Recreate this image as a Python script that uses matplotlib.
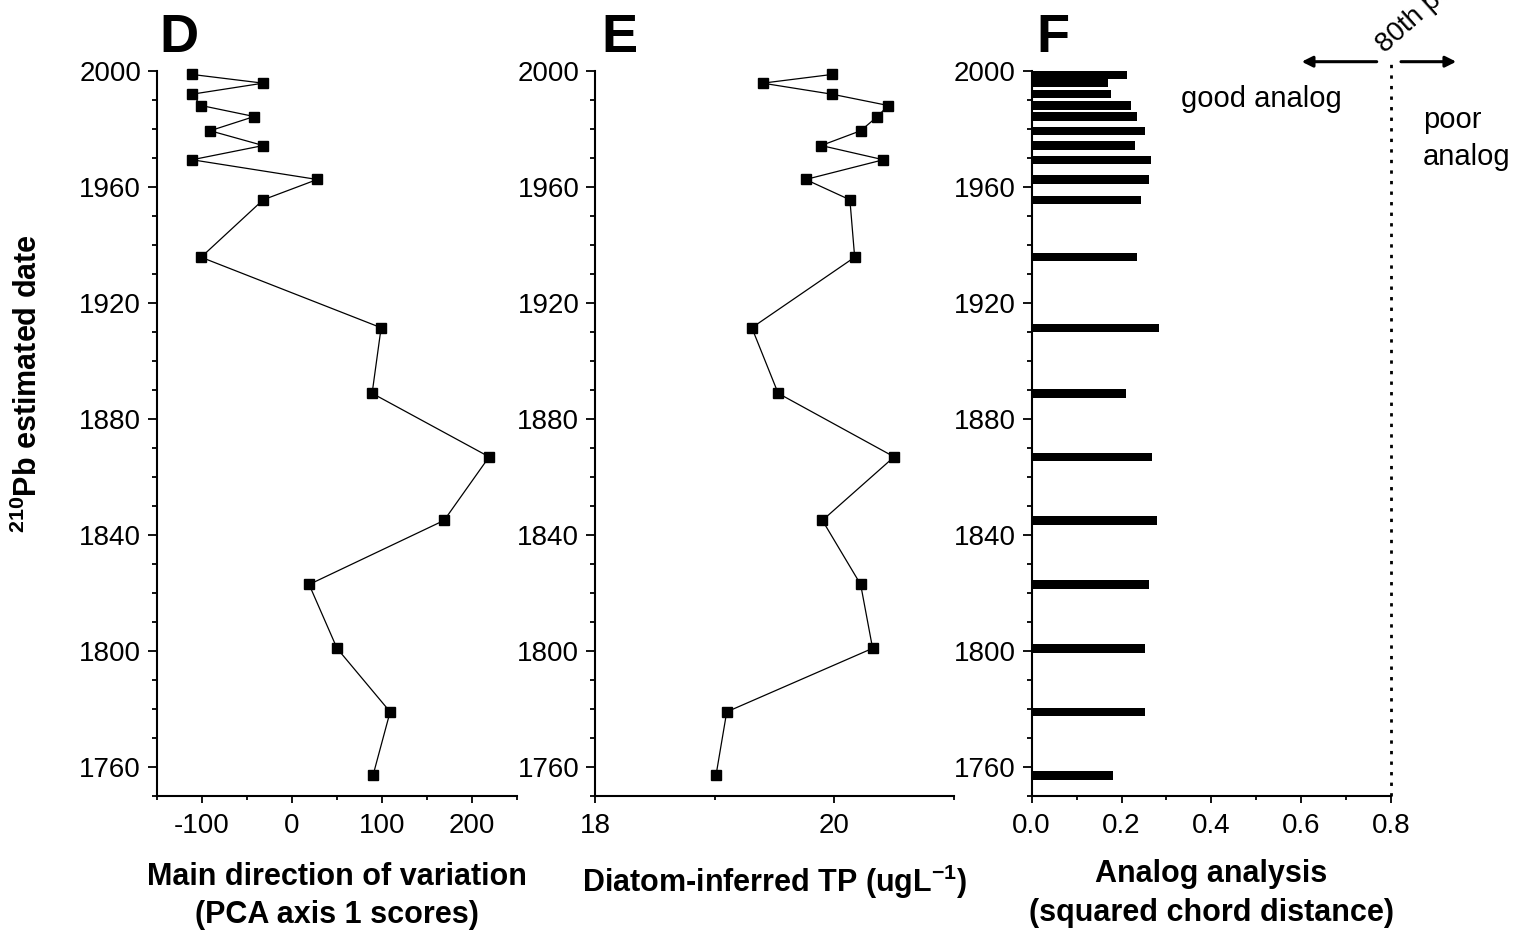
import numpy as np
import matplotlib as mpl
import matplotlib.pyplot as plt
from matplotlib.ticker import MultipleLocator

mpl.rcParams['font.family'] = 'Liberation Sans'
mpl.rcParams['mathtext.fontset'] = 'custom'
mpl.rcParams['mathtext.rm'] = 'Liberation Sans'
mpl.rcParams['mathtext.bf'] = 'Liberation Sans:bold'
mpl.rcParams['axes.unicode_minus'] = False

# sample dates (210Pb estimated), shared by all three panels
years = [1998.7, 1995.7, 1991.9, 1988.0, 1984.2, 1979.3, 1974.2, 1969.3,
         1962.5, 1955.5, 1935.7, 1911.4, 1888.8, 1866.9, 1845.0, 1822.9,
         1800.9, 1779.0, 1757.1]

# D: PCA axis 1 scores
pca_scores = [-111, -32, -111, -101, -42, -91, -32, -111, 28, -32, -101,
              99, 89, 219, 169, 19, 50, 109, 90]

# E: diatom-inferred TP (ug/L)
di_tp = [19.98, 19.40, 19.98, 20.45, 20.36, 20.22, 19.89, 20.41, 19.76,
         20.13, 20.17, 19.31, 19.53, 20.50, 19.90, 20.22, 20.32, 19.10, 19.01]

# F: squared chord distance to closest modern analog
scd = [0.213, 0.171, 0.176, 0.222, 0.234, 0.252, 0.231, 0.266, 0.261,
       0.243, 0.234, 0.284, 0.210, 0.267, 0.278, 0.261, 0.252, 0.253, 0.180]

threshold = 0.8  # 80th percentile cut-off


def style_axis(ax, xlim, xmajor, xminor):
    ax.set_xlim(*xlim)
    ax.set_ylim(1750, 2000)
    ax.xaxis.set_major_locator(MultipleLocator(xmajor))
    ax.xaxis.set_minor_locator(MultipleLocator(xminor))
    ax.yaxis.set_major_locator(MultipleLocator(40))
    ax.yaxis.set_minor_locator(MultipleLocator(10))
    for side in ['top', 'right']:
        ax.spines[side].set_visible(False)
    for side in ['left', 'bottom']:
        ax.spines[side].set_linewidth(1.5)
    ax.tick_params(axis='both', which='both', direction='out', width=1.3,
                   labelsize=20)
    ax.tick_params(axis='y', which='major', length=6.5, pad=5)
    ax.tick_params(axis='y', which='minor', length=3.5)
    ax.tick_params(axis='x', which='major', length=5, pad=7)
    ax.tick_params(axis='x', which='minor', length=3)


fig = plt.figure(figsize=(15.27, 9.4), dpi=100)
bottom, height = 0.1532, 0.7716
ax_d = fig.add_axes([0.1028, bottom, 0.2358, height])
ax_e = fig.add_axes([0.3898, bottom, 0.2349, height])
ax_f = fig.add_axes([0.6756, bottom, 0.2354, height])

# Panel D
ax_d.plot(pca_scores, years, color='black', lw=0.9, marker='s', ms=6.8,
          clip_on=False)
style_axis(ax_d, (-150, 250), 100, 50)
ax_d.set_xlabel('Main direction of variation\n(PCA axis 1 scores)',
                fontsize=22, fontweight='bold', labelpad=17, linespacing=1.35)

# Panel E
ax_e.plot(di_tp, years, color='black', lw=0.9, marker='s', ms=6.8,
          clip_on=False)
style_axis(ax_e, (18, 21), 2, 1)
ax_e.set_xlabel(r'Diatom-inferred TP (ugL$^{\mathbf{-1}}$)',
                fontsize=22, fontweight='bold', labelpad=17)

# Panel F
ax_f.barh(years, scd, height=2.9, color='black')
style_axis(ax_f, (0, 0.8), 0.2, 0.1)
ax_f.xaxis.set_major_formatter(mpl.ticker.FormatStrFormatter('%.1f'))
ax_f.set_xlabel('Analog analysis\n(squared chord distance)',
                fontsize=22, fontweight='bold', labelpad=15, linespacing=1.35)

ax_f.plot([threshold, threshold], [1750, 2004.4], color='black', lw=2,
          linestyle=(0, (1.2, 2.6)), clip_on=False)
ax_f.annotate('', xy=(0.601, 2003.1), xytext=(0.768, 2003.1),
              arrowprops=dict(arrowstyle='-|>', lw=2.2, color='black',
                              mutation_scale=16, shrinkA=0, shrinkB=0),
              annotation_clip=False)
ax_f.annotate('', xy=(0.945, 2003.1), xytext=(0.822, 2003.1),
              arrowprops=dict(arrowstyle='-|>', lw=2.2, color='black',
                              mutation_scale=16, shrinkA=0, shrinkB=0),
              annotation_clip=False)
# runs off the top edge, as in the original figure
ax_f.text(0.786, 2006, '80th percentile', fontsize=20, rotation=42,
          rotation_mode='anchor', ha='left', va='baseline', clip_on=False)
ax_f.text(0.333, 1987.6, 'good analog', fontsize=21, ha='left',
          va='baseline', clip_on=False)
ax_f.text(0.871, 1980.1, 'poor', fontsize=21, ha='left', va='baseline',
          clip_on=False)
ax_f.text(0.871, 1967.5, 'analog', fontsize=21, ha='left', va='baseline',
          clip_on=False)

# panel letters
for x, letter in [(159, 'D'), (601, 'E'), (1036, 'F')]:
    fig.text(x / 1527, 1 - 52 / 940, letter, fontsize=39, fontweight='bold',
             ha='left', va='baseline')

fig.text(0.0185, 0.5915, r'$^{\mathbf{210}}$Pb estimated date', fontsize=22,
         fontweight='bold', rotation=90, ha='center', va='center')

fig.savefig('out.png', dpi=100)
